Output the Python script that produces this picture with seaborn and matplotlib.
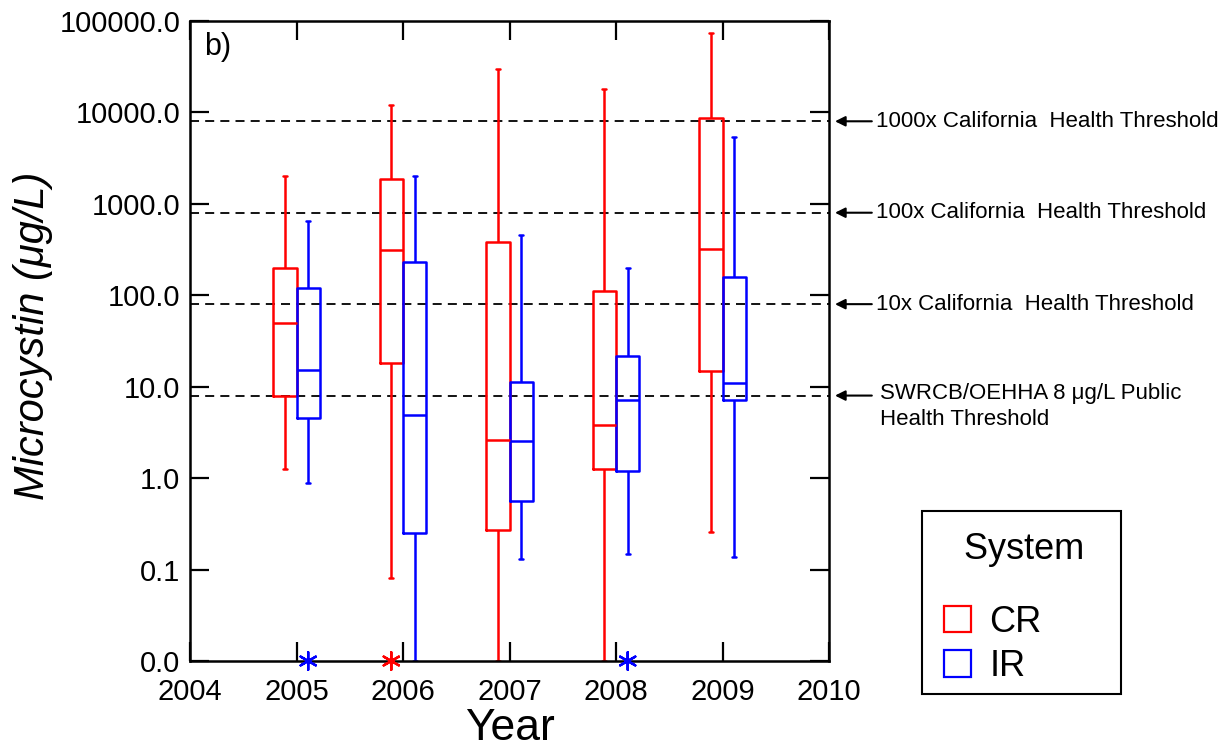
import numpy as np
import pandas as pd
import matplotlib
matplotlib.use("Agg")
import matplotlib.pyplot as plt
from matplotlib.patches import Patch, Rectangle
from matplotlib.ticker import NullLocator
import seaborn as sns

# ---------------- data ----------------
years = [2005, 2006, 2007, 2008, 2009]
systems = ["CR", "IR"]

# five-number summaries in ug/L (0.0 = the "0.0" floor of the axis)
cr_low = [1.25, 0.08, 0.0, 0.0, 0.26]
cr_q1 = [8.0, 18.3, 0.27, 1.27, 14.9]
cr_med = [50.0, 313.0, 2.6, 3.8, 318.0]
cr_q3 = [197.0, 1870.0, 385.0, 112.0, 8700.0]
cr_high = [2000.0, 12000.0, 29800.0, 18000.0, 73000.0]

ir_low = [0.88, 0.0, 0.13, 0.148, 0.138]
ir_q1 = [4.5, 0.25, 0.56, 1.2, 7.2]
ir_med = [15.2, 4.9, 2.53, 7.2, 10.9]
ir_q3 = [119.0, 230.0, 11.4, 21.9, 160.0]
ir_high = [650.0, 2030.0, 456.0, 200.0, 5350.0]

outlier_years = [2005, 2006, 2008]
outlier_systems = ["IR", "CR", "IR"]
outlier_values = [0.0, 0.0, 0.0]

thresholds = [8, 80, 800, 8000]
threshold_labels = [
    "SWRCB/OEHHA 8 \u03bcg/L Public\nHealth Threshold",
    "10x California  Health Threshold",
    "100x California  Health Threshold",
    "1000x California  Health Threshold",
]

xtick_values = [2004, 2005, 2006, 2007, 2008, 2009, 2010]
ytick_values = [0.01, 0.1, 1, 10, 100, 1000, 10000, 100000]
ytick_labels = ["0.0", "0.1", "1.0", "10.0", "100.0", "1000.0", "10000.0", "100000.0"]

colors = {"CR": "#ff0000", "IR": "#0000ff"}

# ---------------- build long-form table ----------------
FLOOR = 0.01  # the value drawn at the axis' "0.0" label
summary = {
    "CR": [cr_low, cr_q1, cr_med, cr_q3, cr_high],
    "IR": [ir_low, ir_q1, ir_med, ir_q3, ir_high],
}
rows = []
for i, yr in enumerate(years):
    for s in systems:
        for arr in summary[s]:
            rows.append({"Year": yr, "System": s, "Value": max(arr[i], FLOOR)})
df = pd.DataFrame(rows)

# ---------------- figure ----------------
sns.set_style("ticks")
plt.rcParams["font.family"] = ["Liberation Sans", "DejaVu Sans"]
plt.rcParams["text.color"] = "black"
plt.rcParams["axes.labelcolor"] = "black"
plt.rcParams["xtick.color"] = "black"
plt.rcParams["ytick.color"] = "black"

fig = plt.figure(figsize=(12.3, 7.5), dpi=100)
ax = fig.add_axes([190 / 1230, 89 / 750, 639 / 1230, 640 / 750])

BOX_WIDTH = 0.44
sns.boxplot(
    data=df, x="Year", y="Value", hue="System", hue_order=systems,
    palette=colors, native_scale=True, log_scale=(False, True),
    width=BOX_WIDTH, gap=0, fill=False, whis=(0, 100), linewidth=1.8,
    legend=False, ax=ax,
)

# shorten whisker caps
for ln in ax.lines:
    xd = np.asarray(ln.get_xdata(), dtype=float)
    yd = np.asarray(ln.get_ydata(), dtype=float)
    if len(xd) == 2 and yd[0] == yd[1]:
        span = abs(xd[1] - xd[0])
        if 0.05 < span < 0.15:
            c = xd.mean()
            ln.set_xdata([c - 0.018, c + 0.018])

# outliers at the 0.0 floor
offsets = {"CR": -BOX_WIDTH / 4, "IR": BOX_WIDTH / 4}
ox = [yr + offsets[s] for yr, s in zip(outlier_years, outlier_systems)]
oy = [max(v, FLOOR) for v in outlier_values]
oc = [colors[s] for s in outlier_systems]
ax.scatter(ox, oy, marker=(6, 2, 0), s=160, c=oc, linewidths=1.7,
           clip_on=False, zorder=6)

# threshold lines
for t in thresholds:
    ax.axhline(t, color="black", lw=1.3, ls=(0, (5, 3.4)), zorder=1)

# axes formatting
ax.set_xlim(2004, 2010)
ax.set_ylim(0.01, 100000)
ax.set_xticks(xtick_values)
ax.set_xticklabels([str(v) for v in xtick_values])
ax.set_yticks(ytick_values)
ax.set_yticklabels(ytick_labels)
ax.yaxis.set_minor_locator(NullLocator())
ax.xaxis.set_minor_locator(NullLocator())
for sp in ax.spines.values():
    sp.set_visible(True)
    sp.set_linewidth(1.8)
    sp.set_color("black")
ax.tick_params(axis="both", which="major", direction="in", length=14,
               width=1.6, top=True, right=True, labelsize=21, colors="black")
ax.tick_params(axis="x", pad=12)
ax.tick_params(axis="y", pad=7)

ax.set_ylabel("Microcystin (\u03bcg/L)", fontsize=30, fontstyle="italic",
              color="black")
ax.yaxis.set_label_coords(-0.215, 0.508)
ax.set_xlabel("Year", fontsize=32, color="black")
ax.xaxis.set_label_coords(0.5, -0.074)

ax.text(0.022, 0.983, "b)", transform=ax.transAxes, fontsize=22,
        va="top", ha="left", color="black")

# threshold annotations outside the axes
for t, lab in zip(thresholds, threshold_labels):
    ax.annotate("", xy=(1.0094, t), xycoords=("axes fraction", "data"),
                xytext=(1.067, t), textcoords=("axes fraction", "data"),
                arrowprops=dict(arrowstyle="-|>", color="black", lw=1.5,
                                mutation_scale=15, shrinkA=0, shrinkB=0),
                annotation_clip=False)
    if "\n" in lab:
        ax.annotate(lab, xy=(1.08, t), xycoords=("axes fraction", "data"),
                    xytext=(0, 9), textcoords="offset points",
                    fontsize=16, ha="left", va="top", annotation_clip=False,
                    linespacing=1.3, color="black")
    else:
        ax.annotate(lab, xy=(1.074, t), xycoords=("axes fraction", "data"),
                    fontsize=16, ha="left", va="center",
                    annotation_clip=False, color="black")

# legend (frame drawn separately to match the reference box)
handles = [Patch(facecolor="none", edgecolor=colors[s], linewidth=1.6, label=s)
           for s in systems]
leg = ax.legend(
    handles=handles, title="  System", loc="upper left",
    bbox_to_anchor=(944 / 1230, 1 - 532 / 750), bbox_transform=fig.transFigure,
    borderaxespad=0, fontsize=26, title_fontsize=26, alignment="left",
    handlelength=0.75, handleheight=0.75, handletextpad=0.5,
    labelspacing=0.26, borderpad=0, frameon=False, labelcolor="black",
)
leg.get_title().set_color("black")
leg._legend_box.sep = 27
fig.add_artist(Rectangle((922 / 1230, 56 / 750), 199 / 1230, 183 / 750,
                         transform=fig.transFigure, facecolor="none",
                         edgecolor="black", linewidth=1.5))

fig.savefig("out.png", dpi=100)
